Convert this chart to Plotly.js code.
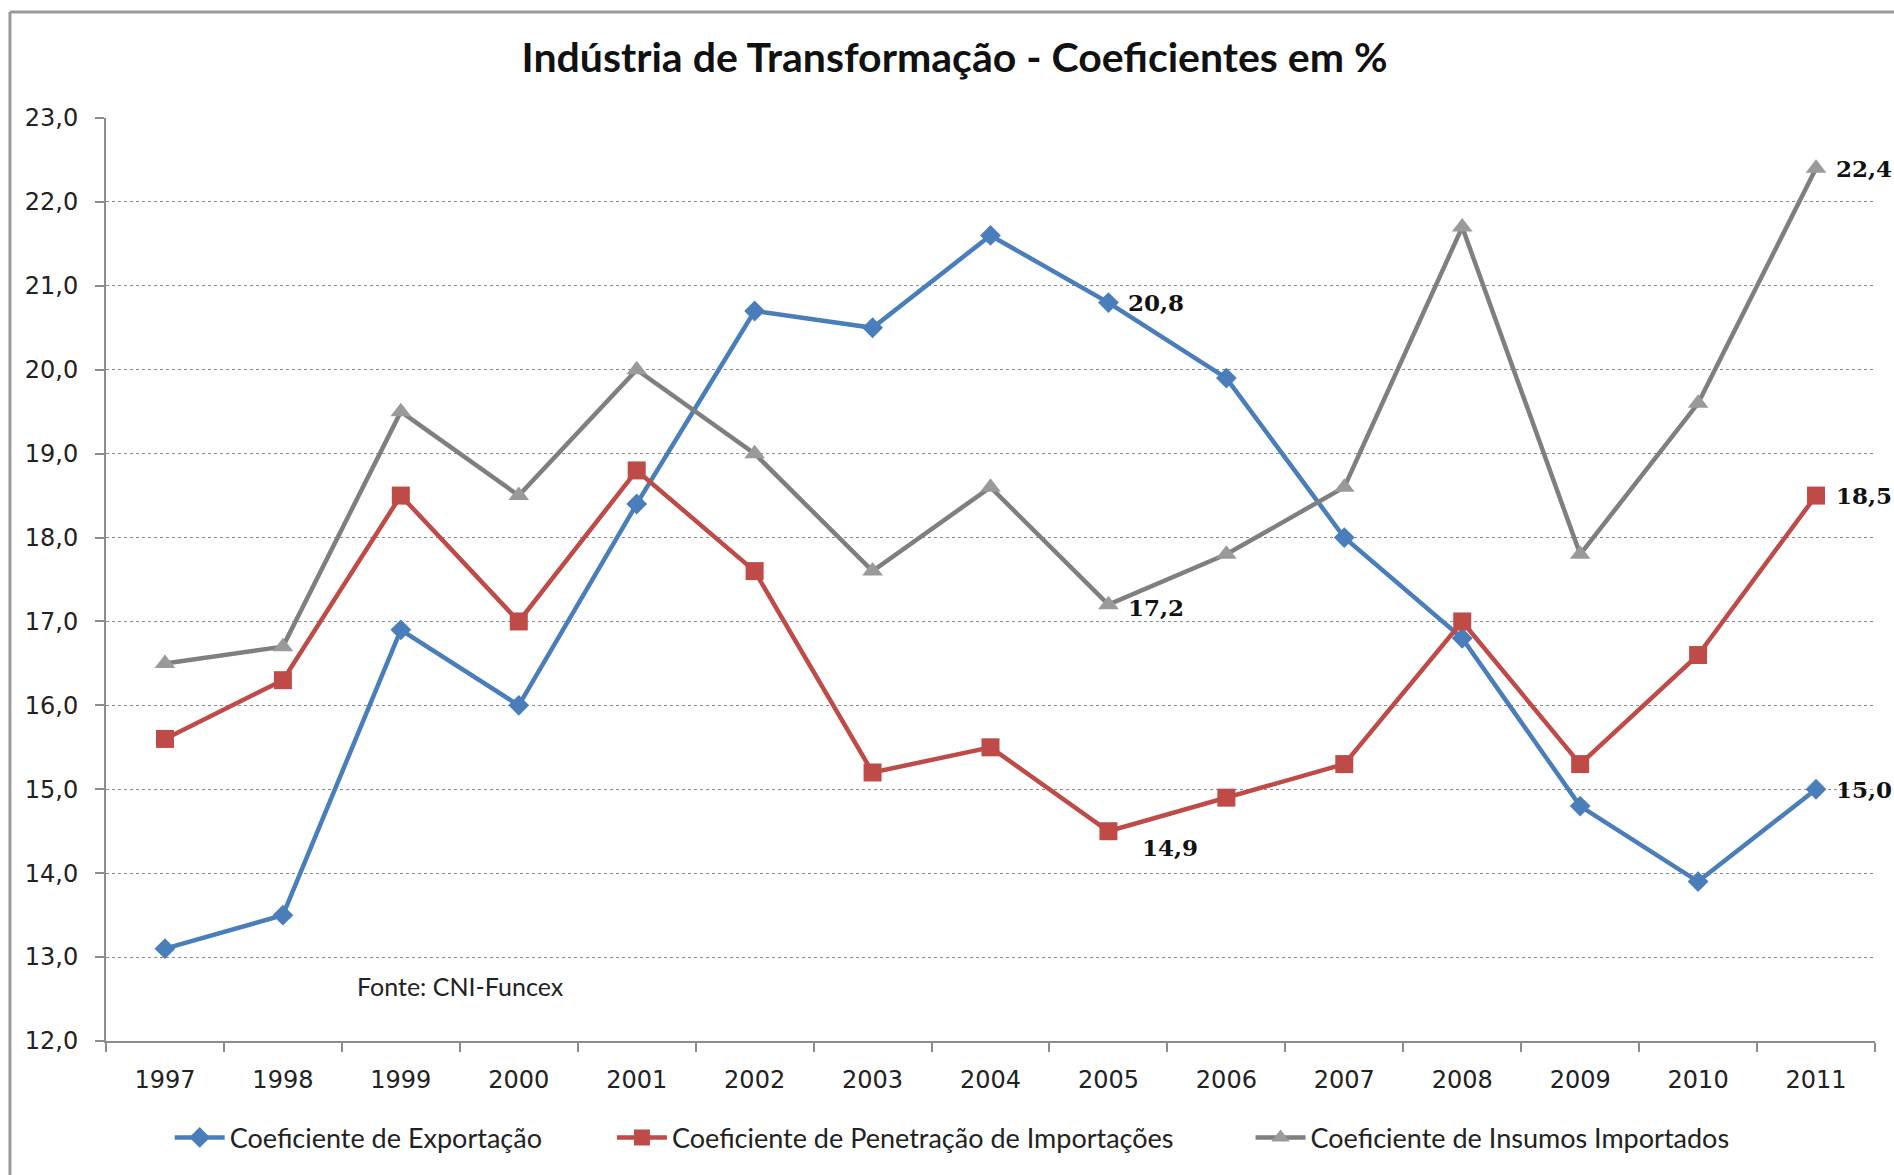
<!DOCTYPE html>
<html>
<head>
<meta charset="utf-8">
<script src="https://cdn.plot.ly/plotly-3.0.1.min.js"></script>
<style>
html,body{margin:0;padding:0;background:#fff;}
#chart{width:1894px;height:1175px;}
</style>
</head>
<body>
<div id="chart"></div>
<script>
var years = ['1997','1998','1999','2000','2001','2002','2003','2004','2005','2006','2007','2008','2009','2010','2011'];
var exportacao = [13.1,13.5,16.9,16.0,18.4,20.7,20.5,21.6,20.8,19.9,18.0,16.8,14.8,13.9,15.0];
var penetracao = [15.6,16.3,18.5,17.0,18.8,17.6,15.2,15.5,14.5,14.9,15.3,17.0,15.3,16.6,18.5];
var insumos    = [16.5,16.7,19.5,18.5,20.0,19.0,17.6,18.6,17.2,17.8,18.6,21.7,17.8,19.6,22.4];
var seriesNames = ['Coeficiente de Exportação','Coeficiente de Penetração de Importações','Coeficiente de Insumos Importados'];
var yTicks = [12,13,14,15,16,17,18,19,20,21,22,23];
var yTickText = ['12,0','13,0','14,0','15,0','16,0','17,0','18,0','19,0','20,0','21,0','22,0','23,0'];
// labelled points: [series values, year index, text, xshift, yshift]
var labels = [
  [exportacao, 8, '20,8', 18, 0],
  [insumos, 8, '17,2', 18, -3],
  [penetracao, 8, '14,9', 32, -16],
  [insumos, 14, '22,4', 18, 0],
  [penetracao, 14, '18,5', 18, 0],
  [exportacao, 14, '15,0', 18, 0]
];
var sourceNote = 'Fonte: CNI-Funcex';

var blue = '#4a7ebb', red = '#be4b48', gray = '#7f7f7f';
var idx = years.map(function(_, i){ return i; });
var traces = [
  {x: idx, y: exportacao, name: seriesNames[0], type: 'scatter', mode: 'lines+markers',
   line: {color: blue, width: 4.5}, marker: {symbol: 'diamond', size: 16, color: blue}, legend: 'legend'},
  {x: idx, y: penetracao, name: seriesNames[1], type: 'scatter', mode: 'lines+markers',
   line: {color: red, width: 4.5}, marker: {symbol: 'square', size: 18, color: red}, legend: 'legend2'},
  {x: idx, y: insumos, name: seriesNames[2], type: 'scatter', mode: 'lines+markers',
   line: {color: gray, width: 4.5}, marker: {symbol: 'triangle-up', size: 18, color: '#9a9a9a'}, legend: 'legend3'}
];

var annotations = labels.map(function(l){
  return {x: l[1], y: l[0][l[1]], xref: 'x', yref: 'y', text: '<b>' + l[2] + '</b>',
          showarrow: false, xanchor: 'left', yanchor: 'middle', xshift: l[3], yshift: l[4],
          font: {family: 'DejaVu Serif', size: 23, color: '#111'}};
});
annotations.push({x: 1.615, y: 12.65, xref: 'x', yref: 'y', text: sourceNote, showarrow: false,
  xanchor: 'left', yanchor: 'middle', font: {family: 'Lato', size: 25, color: '#222'}});

var legFont = {family: 'Lato', size: 27, color: '#222'};
var layout = {
  width: 1894, height: 1175,
  margin: {l: 106, r: 19, t: 118, b: 134},
  paper_bgcolor: '#ffffff', plot_bgcolor: '#ffffff',
  title: {text: '<b>Indústria de Transformação - Coeficientes em %</b>', xref: 'container', x: 0.504, xanchor: 'center',
          yref: 'container', y: 0.9506, yanchor: 'middle', font: {family: 'Lato', size: 41, color: '#111'}},
  xaxis: {type: 'linear', range: [-0.5, 14.5], tickvals: idx.map(function(i){ return i - 0.5; }).concat([14.5]),
          ticktext: years.map(function(){ return ''; }).concat(['']),
          ticks: 'outside', ticklen: 9, tickwidth: 2, tickcolor: '#8c8c8c',
          showline: true, linecolor: '#8c8c8c', linewidth: 2, showgrid: false, zeroline: false, fixedrange: true},
  xaxis2: {overlaying: 'x', anchor: 'y', side: 'bottom', range: [-0.5, 14.5], tickvals: idx, ticktext: years,
           ticks: '', showline: false, showgrid: false, zeroline: false,
           tickfont: {family: 'DejaVu Sans', size: 24, color: '#222'}, ticklabelstandoff: 22, fixedrange: true},
  yaxis: {range: [12, 23], tickvals: yTicks, ticktext: yTickText, ticks: 'outside', ticklen: 9, tickwidth: 2,
          tickcolor: '#8c8c8c', showline: true, linecolor: '#8c8c8c', linewidth: 2,
          showgrid: true, gridcolor: '#8a8a8a', gridwidth: 1, griddash: 'dot', zeroline: false,
          tickfont: {family: 'DejaVu Sans', size: 24, color: '#222'}, ticklabelstandoff: 12, fixedrange: true},
  showlegend: true,
  legend: {orientation: 'h', x: 0.036, xanchor: 'left', y: -0.105, yanchor: 'middle', font: legFont, itemwidth: 50, bgcolor: 'rgba(0,0,0,0)'},
  legend2: {orientation: 'h', x: 0.286, xanchor: 'left', y: -0.105, yanchor: 'middle', font: legFont, itemwidth: 50, bgcolor: 'rgba(0,0,0,0)'},
  legend3: {orientation: 'h', x: 0.647, xanchor: 'left', y: -0.105, yanchor: 'middle', font: legFont, itemwidth: 50, bgcolor: 'rgba(0,0,0,0)'},
  annotations: annotations,
  shapes: [
    {type: 'line', xref: 'paper', yref: 'paper', x0: -0.0543, x1: -0.0543, y0: 1.1148, y1: -0.15, line: {color: '#9a9a9a', width: 3}},
    {type: 'line', xref: 'paper', yref: 'paper', x0: -0.0543, x1: 1.02, y0: 1.1148, y1: 1.1148, line: {color: '#9a9a9a', width: 3}}
  ]
};
// invisible trace so the label axis (xaxis2) is drawn
traces.push({x: idx, y: exportacao, xaxis: 'x2', yaxis: 'y', type: 'scatter', mode: 'markers',
             marker: {opacity: 0}, showlegend: false, hoverinfo: 'skip'});
Plotly.newPlot('chart', traces, layout, {displayModeBar: false, staticPlot: true});
</script>
</body>
</html>
